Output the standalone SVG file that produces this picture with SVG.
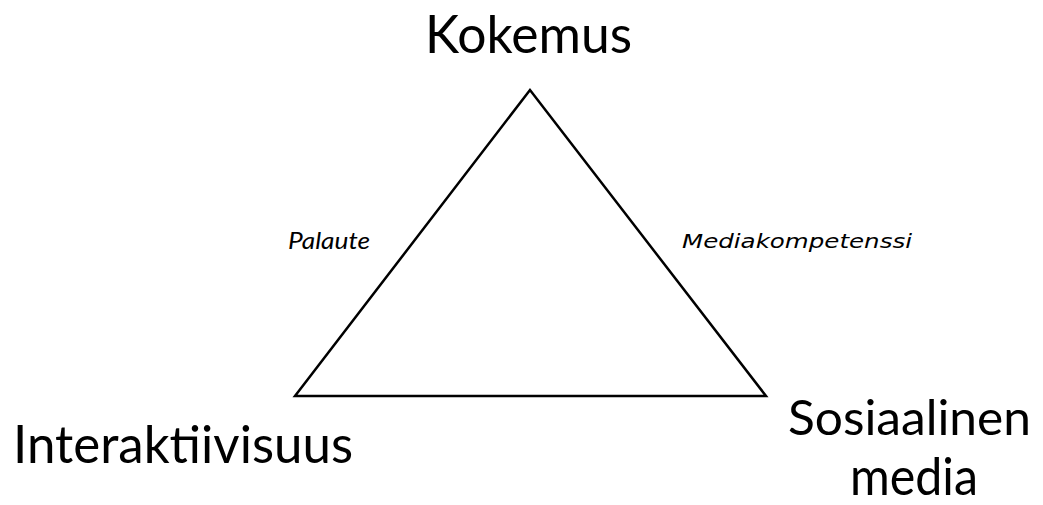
<svg xmlns="http://www.w3.org/2000/svg" width="1043" height="505" viewBox="0 0 1043 505">
<style>
.big{font-family:Lato,"Open Sans",sans-serif;font-size:53px;fill:#000}
.lbl{font-style:italic;fill:#000}
.tri{fill:none;stroke:#000;stroke-width:2.5;stroke-linejoin:miter}
</style>
<rect width="1043" height="505" fill="#fff"/>
<g id="connectors">
<polygon class="tri" points="530,90 295,396 766,396"/>
</g>
<g id="edge-labels">
<text class="lbl" x="288" y="249" font-family="Lato,sans-serif" font-size="24" textLength="82" lengthAdjust="spacingAndGlyphs">Palaute</text>
<text class="lbl" x="682" y="248" font-family="'DejaVu Sans',sans-serif" font-size="20" textLength="230" lengthAdjust="spacingAndGlyphs">Mediakompetenssi</text>
</g>
<g id="node-kokemus">
<text class="big" x="425" y="53" textLength="207" lengthAdjust="spacingAndGlyphs">Kokemus</text>
</g>
<g id="node-interaktiivisuus">
<text class="big" x="13" y="463" textLength="340" lengthAdjust="spacingAndGlyphs">Interaktiivisuus</text>
</g>
<g id="node-sosiaalinen-media">
<text class="big" x="788" y="435" style="font-size:49px" textLength="243" lengthAdjust="spacingAndGlyphs">Sosiaalinen</text>
<text class="big" x="850" y="495" textLength="128" lengthAdjust="spacingAndGlyphs">media</text>
</g>
</svg>
